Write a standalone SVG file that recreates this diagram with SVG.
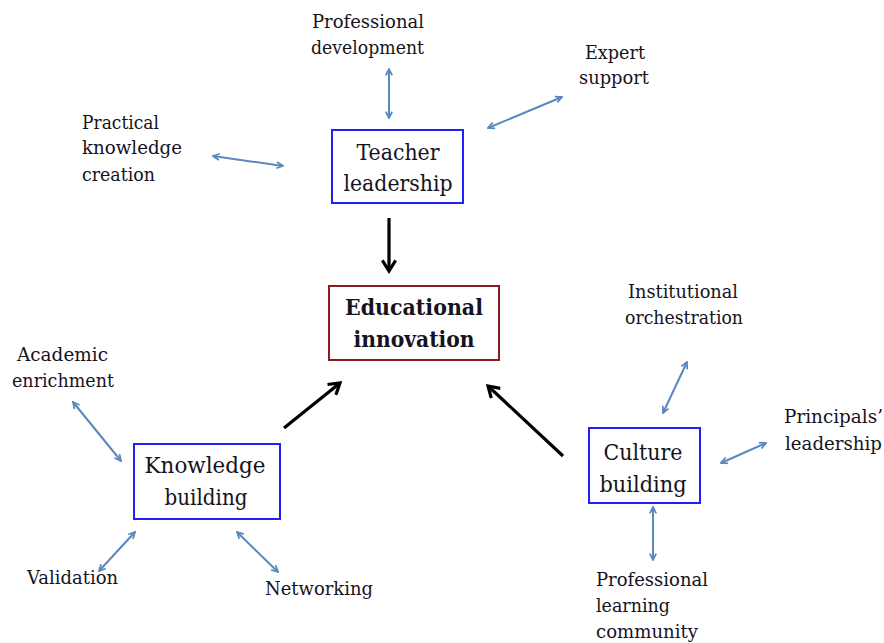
<svg xmlns="http://www.w3.org/2000/svg" width="884" height="643" viewBox="0 0 884 643">
<style>
.lbl{font-size:18px;fill:#16131c}
.nd{font-size:23px;fill:#16131c;text-anchor:middle}
.ndb{font-size:22px;font-weight:bold;fill:#16131c;text-anchor:middle}
.box{fill:#fff;stroke:#1f1fff;stroke-width:2}
.boxr{fill:#fff;stroke:#8b1c1c;stroke-width:2}
.blue{stroke:#5b87bf;stroke-width:2;fill:none;marker-start:url(#bh);marker-end:url(#bh)}
.blk{stroke:#000;stroke-width:3.2;fill:none;marker-end:url(#kh)}
</style>
<defs>
<marker id="bh" viewBox="0 0 10 10" refX="9" refY="5" markerWidth="8" markerHeight="8" orient="auto-start-reverse" markerUnits="userSpaceOnUse">
<path d="M1,1 L9,5 L1,9" fill="none" stroke="#5b87bf" stroke-width="2.2"/>
</marker>
<marker id="kh" viewBox="0 0 12 12" refX="10" refY="6" markerWidth="16" markerHeight="16" orient="auto" markerUnits="userSpaceOnUse">
<path d="M2,1 L10,6 L2,11" fill="none" stroke="#000" stroke-width="2.4"/>
</marker>
</defs>
<rect width="884" height="643" fill="#fff"/>

<g id="connectors">
<line class="blk" x1="389" y1="218" x2="389" y2="271"/>
<line class="blk" x1="284" y1="428" x2="340" y2="383"/>
<line class="blk" x1="563" y1="456" x2="488" y2="386"/>
<line class="blue" x1="389" y1="69" x2="389" y2="118"/>
<line class="blue" x1="488" y1="128" x2="562" y2="97"/>
<line class="blue" x1="213" y1="156" x2="283" y2="166"/>
<line class="blue" x1="73" y1="402" x2="121" y2="461"/>
<line class="blue" x1="135" y1="532" x2="99" y2="571"/>
<line class="blue" x1="237" y1="532" x2="278" y2="572"/>
<line class="blue" x1="687" y1="362" x2="663" y2="413"/>
<line class="blue" x1="721" y1="463" x2="766" y2="443"/>
<line class="blue" x1="653" y1="507" x2="653" y2="560"/>
</g>

<g font-family="DejaVu Serif, Liberation Serif, serif">
<g id="teacher-leadership">
<rect class="box" x="332" y="130" width="131" height="73"/>
<text class="nd" x="398" y="160" textLength="83" lengthAdjust="spacingAndGlyphs">Teacher</text>
<text class="nd" x="398" y="191" textLength="109" lengthAdjust="spacingAndGlyphs">leadership</text>
</g>

<g id="educational-innovation">
<rect class="boxr" x="329" y="286" width="170" height="74"/>
<text class="ndb" x="414" y="315" textLength="138" lengthAdjust="spacingAndGlyphs">Educational</text>
<text class="ndb" x="414" y="347" textLength="121" lengthAdjust="spacingAndGlyphs">innovation</text>
</g>

<g id="knowledge-building">
<rect class="box" x="134" y="444" width="146" height="75"/>
<text class="nd" x="205" y="473" textLength="121" lengthAdjust="spacingAndGlyphs">Knowledge</text>
<text class="nd" x="206" y="505" textLength="83" lengthAdjust="spacingAndGlyphs">building</text>
</g>

<g id="culture-building">
<rect class="box" x="589" y="428" width="111" height="75"/>
<text class="nd" x="643" y="460" textLength="79" lengthAdjust="spacingAndGlyphs">Culture</text>
<text class="nd" x="643" y="492" textLength="87" lengthAdjust="spacingAndGlyphs">building</text>
</g>

<g id="professional-development">
<text class="lbl" x="312" y="28" textLength="112" lengthAdjust="spacingAndGlyphs">Professional</text>
<text class="lbl" x="311" y="54" textLength="113" lengthAdjust="spacingAndGlyphs">development</text>
</g>

<g id="expert-support">
<text class="lbl" x="585" y="59" textLength="60" lengthAdjust="spacingAndGlyphs">Expert</text>
<text class="lbl" x="579" y="84" textLength="70" lengthAdjust="spacingAndGlyphs">support</text>
</g>

<g id="practical-knowledge-creation">
<text class="lbl" x="82" y="129" textLength="77" lengthAdjust="spacingAndGlyphs">Practical</text>
<text class="lbl" x="82" y="154" textLength="100" lengthAdjust="spacingAndGlyphs">knowledge</text>
<text class="lbl" x="82" y="181" textLength="73" lengthAdjust="spacingAndGlyphs">creation</text>
</g>

<g id="institutional-orchestration">
<text class="lbl" x="628" y="298" textLength="110" lengthAdjust="spacingAndGlyphs">Institutional</text>
<text class="lbl" x="625" y="324" textLength="118" lengthAdjust="spacingAndGlyphs">orchestration</text>
</g>

<g id="academic-enrichment">
<text class="lbl" x="17" y="361" textLength="91" lengthAdjust="spacingAndGlyphs">Academic</text>
<text class="lbl" x="12" y="387" textLength="102" lengthAdjust="spacingAndGlyphs">enrichment</text>
</g>

<g id="principals-leadership">
<text class="lbl" x="784" y="423" textLength="99" lengthAdjust="spacingAndGlyphs">Principals’</text>
<text class="lbl" x="785" y="450" textLength="97" lengthAdjust="spacingAndGlyphs">leadership</text>
</g>

<g id="validation">
<text class="lbl" x="27" y="584" textLength="91" lengthAdjust="spacingAndGlyphs">Validation</text>
</g>

<g id="networking">
<text class="lbl" x="265" y="595" textLength="108" lengthAdjust="spacingAndGlyphs">Networking</text>
</g>

<g id="professional-learning-community">
<text class="lbl" x="596" y="586" textLength="112" lengthAdjust="spacingAndGlyphs">Professional</text>
<text class="lbl" x="596" y="612" textLength="74" lengthAdjust="spacingAndGlyphs">learning</text>
<text class="lbl" x="596" y="638" textLength="102" lengthAdjust="spacingAndGlyphs">community</text>
</g>
</g>
</svg>
